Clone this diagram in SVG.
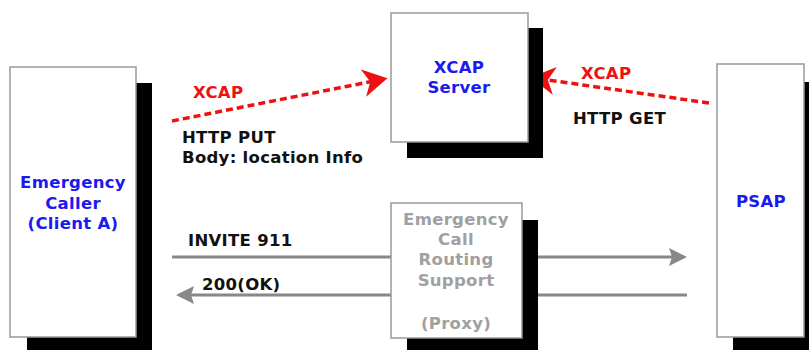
<svg xmlns="http://www.w3.org/2000/svg" width="809" height="350" viewBox="0 0 809 350">
<style>
.box{fill:#fff;stroke:#999;stroke-width:1.5}
.sh{fill:#000}
.t{font-family:"DejaVu Sans",Verdana,sans-serif;font-weight:bold;font-size:16.5px;letter-spacing:0.3px}
.blue{fill:#1a1aee;text-anchor:middle}
.gray{fill:#a0a0a0;text-anchor:middle}
.red{fill:#ee1111}
.blk{fill:#111}
.xl{stroke:#ee1111;stroke-width:3.5;stroke-dasharray:7 4;fill:none}
.gl{stroke:#888;stroke-width:3;fill:none}
</style>
<defs>
<marker id="ra" markerWidth="8" markerHeight="8" refX="6" refY="4" orient="auto" markerUnits="strokeWidth" viewBox="0 0 8 8">
<path d="M0,0 L7,4 L0,8 L2,4 Z" fill="#ee1111"/>
</marker>
<marker id="ga" markerWidth="6" markerHeight="6" refX="5" refY="3" orient="auto" markerUnits="strokeWidth" viewBox="0 0 6 6">
<path d="M0,0 L6,3 L0,6 L1,3 Z" fill="#888"/>
</marker>
</defs>
<rect width="809" height="350" fill="#fff"/>
<g id="connectors">
<line class="gl" x1="172" y1="257" x2="684" y2="257" marker-end="url(#ga)"/>
<line class="gl" x1="687" y1="295" x2="179" y2="295" marker-end="url(#ga)"/>
<line class="xl" x1="172" y1="121" x2="384" y2="79" marker-end="url(#ra)"/>
<line class="xl" x1="709" y1="103" x2="534" y2="78" marker-end="url(#ra)"/>
<text class="t red" x="193" y="98">XCAP</text>
<text class="t blk" x="182" y="143">HTTP PUT</text>
<text class="t blk" x="182" y="163">Body: location Info</text>
<text class="t red" x="581" y="79">XCAP</text>
<text class="t blk" x="573" y="124">HTTP GET</text>
<text class="t blk" x="188" y="246">INVITE 911</text>
<text class="t blk" x="202" y="290">200(OK)</text>
</g>
<g id="client">
<rect class="sh" x="27" y="83" width="125" height="270"/>
<rect class="box" x="10" y="67" width="126" height="270"/>
<text class="t blue" x="73" y="188">Emergency</text>
<text class="t blue" x="73" y="209">Caller</text>
<text class="t blue" x="73" y="229">(Client A)</text>
</g>
<g id="xcap">
<rect class="sh" x="407" y="28" width="136" height="130"/>
<rect class="box" x="391" y="13" width="137" height="129"/>
<text class="t blue" x="459" y="73">XCAP</text>
<text class="t blue" x="459" y="93">Server</text>
</g>
<g id="proxy">
<rect class="sh" x="407" y="220" width="131" height="133"/>
<rect class="box" x="391" y="203" width="131" height="135"/>
<text class="t gray" x="456" y="225">Emergency</text>
<text class="t gray" x="456" y="245">Call</text>
<text class="t gray" x="456" y="265">Routing</text>
<text class="t gray" x="456" y="286">Support</text>
<text class="t gray" x="456" y="329">(Proxy)</text>
</g>
<g id="psap">
<rect class="sh" x="733" y="82" width="80" height="271"/>
<rect class="box" x="717" y="64" width="87" height="273"/>
<text class="t blue" x="761" y="207">PSAP</text>
</g>
</svg>
